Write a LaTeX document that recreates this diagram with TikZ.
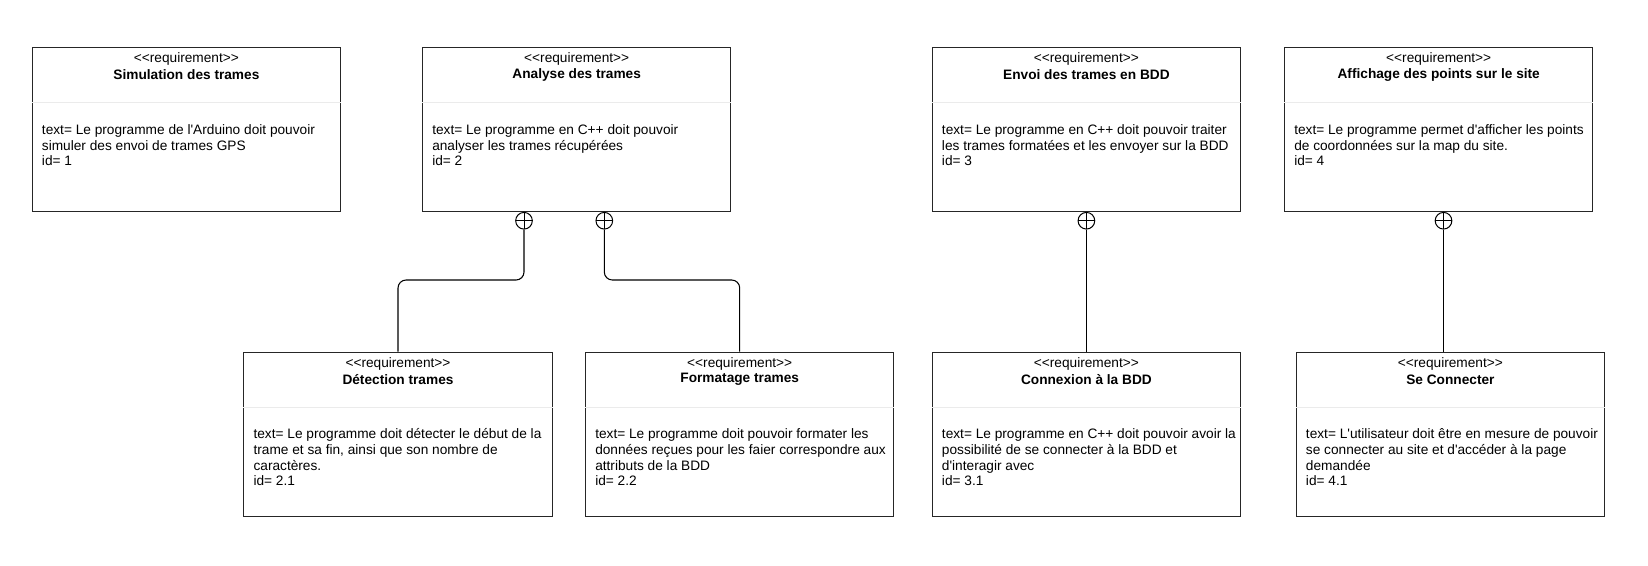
\documentclass[tikz,border=0pt]{standalone}
\usepackage{fontspec}
\setmainfont{Liberation Sans}[Ligatures=TeXOff]
\usetikzlibrary{calc}
\tikzset{
  req/.style={draw=black!85, line width=0.85pt, rectangle, anchor=north west,
    minimum width=231.2pt, minimum height=123pt, inner sep=0pt},
  sepline/.style={draw=black!8, line width=0.75pt},
  stereo/.style={inner sep=0pt, font=\fontsize{10.26pt}{11.8pt}\selectfont},
  reqtitle/.style={inner sep=0pt, font=\fontsize{10.26pt}{11.8pt}\selectfont\bfseries},
  reqbody/.style={inner sep=0pt, anchor=base west, font=\fontsize{10.26pt}{11.8pt}\selectfont},
  contain/.style={circle, draw=black, line width=0.75pt, minimum size=12.5pt, inner sep=0pt,
    path picture={\draw[line width=0.75pt] (path picture bounding box.north) -- (path picture bounding box.south)
      (path picture bounding box.west) -- (path picture bounding box.east);}},
  conn/.style={draw=black, line width=0.8pt, rounded corners=6pt}
}
\newcommand\reqbox[5]{%
  \node[req] (#1) at (#2,#3) {};
  \draw[sepline] ($(#1.north west)+(0,55.4)$) -- ($(#1.north east)+(0,55.4)$);
  \node[stereo] (#1s) at ($(#1.north)+(0,12)$) {<<requirement>>};
  \node[reqtitle] (#1t) at ($(#1.north)+(0,27.7)$) {#4};
  \node[reqbody] (#1b) at ($(#1.north west)+(10,87)$) {\parbox[t]{300pt}{\raggedright #5}};
}
\begin{document}
\begin{tikzpicture}[x=0.75pt,y=-0.75pt]
\useasboundingbox (0,0) rectangle (1648,565);
\reqbox{b1}{31.7}{47.3}{Simulation des trames}{text= Le programme de l'Arduino doit pouvoir\\simuler des envoi de trames GPS\\id= 1}
\reqbox{b2}{422}{47.3}{Analyse des trames}{text= Le programme en C++ doit pouvoir\\analyser les trames récupérées\\id= 2}
\reqbox{b3}{931.7}{47.3}{Envoi des trames en BDD}{text= Le programme en C++ doit pouvoir traiter\\les trames formatées et les envoyer sur la BDD\\id= 3}
\reqbox{b4}{1284}{47.3}{Affichage des points sur le site}{text= Le programme permet d'afficher les points\\de coordonnées sur la map du site.\\id= 4}
\reqbox{c1}{243.3}{351.7}{Détection trames}{text= Le programme doit détecter le début de la\\trame et sa fin, ainsi que son nombre de\\caractères.\\id= 2.1}
\reqbox{c2}{585}{351.7}{Formatage trames}{text= Le programme doit pouvoir formater les\\données reçues pour les faier correspondre aux\\attributs de la BDD\\id= 2.2}
\reqbox{c3}{931.7}{351.7}{Connexion à la BDD}{text= Le programme en C++ doit pouvoir avoir la\\possibilité de se connecter à la BDD et\\d'interagir avec\\id= 3.1}
\reqbox{c4}{1295.7}{351.7}{Se Connecter}{text= L'utilisateur doit être en mesure de pouvoir\\se connecter au site et d'accéder à la page\\demandée\\id= 4.1}
% containment connectors
\node[contain] (o1) at ($(b2.south west)+(102,8.3)$) {};
\node[contain] (o2) at ($(b2.south west)+(182.3,8.3)$) {};
\node[contain] (o3) at ($(b3.south)+(0,8.3)$) {};
\node[contain] (o4) at ($(b4.south west)+(159.5,8.3)$) {};
\coordinate (j1) at ($(c1.north)+(0,-71.7)$);
\coordinate (j2) at ($(c2.north)+(0,-71.7)$);
\draw[conn] (o1.south) |- (j1) -- (c1.north);
\draw[conn] (o2.south) |- (j2) -- (c2.north);
\draw[conn] (o3.south) -- (o3.south |- c3.north);
\draw[conn] (o4.south) -- (o4.south |- c4.north);
\end{tikzpicture}
\end{document}
